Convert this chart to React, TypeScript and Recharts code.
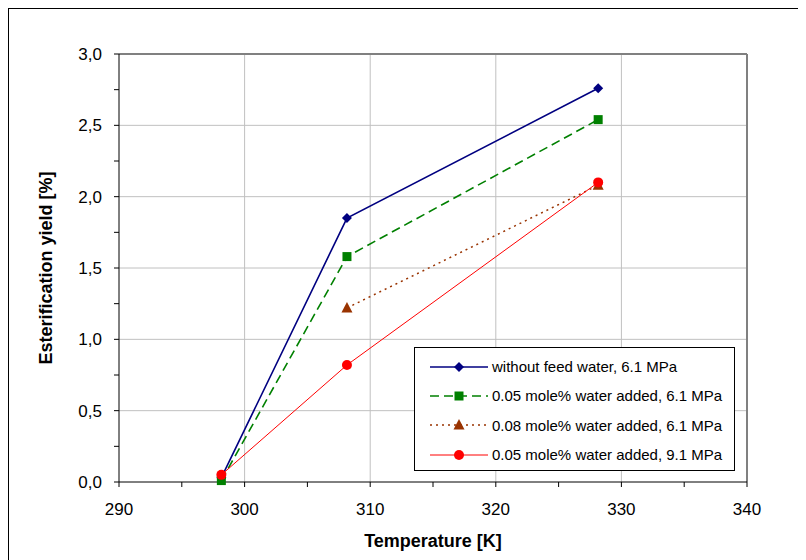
import { CartesianGrid, Label, Line, LineChart, ReferenceLine, XAxis, YAxis } from 'recharts';

// values
const temperatures = [298.15, 308.15, 328.15];
const withoutFeedWater = [0.03, 1.85, 2.76];
const water005_61 = [0.01, 1.58, 2.54];
const water008_61 = [null, 1.22, 2.08];
const water005_91 = [0.05, 0.82, 2.1];

const seriesNames = [
  'without feed water, 6.1 MPa',
  '0.05 mole% water added, 6.1 MPa',
  '0.08 mole% water added, 6.1 MPa',
  '0.05 mole% water added, 9.1 MPa',
];

const xTicks = [290, 295, 300, 305, 310, 315, 320, 325, 330, 335, 340];
const yTicks = [0, 0.25, 0.5, 0.75, 1, 1.25, 1.5, 1.75, 2, 2.25, 2.5, 2.75, 3];
const xGrid = [300, 310, 320, 330];
const yGrid = [0.5, 1, 1.5, 2, 2.5];

const data = temperatures.map((t, i) => ({
  t,
  s0: withoutFeedWater[i],
  s1: water005_61[i],
  s2: water008_61[i],
  s3: water005_91[i],
}));

const FONT = '"Liberation Sans", Arial, sans-serif';

type Shape = 'diamond' | 'square' | 'triangle' | 'circle';

function Marker({ cx, cy, shape, color }: { cx: number; cy: number; shape: Shape; color: string }) {
  if (shape === 'diamond') {
    const r = 5;
    return <polygon points={`${cx},${cy - r} ${cx + r},${cy} ${cx},${cy + r} ${cx - r},${cy}`} fill={color} />;
  }
  if (shape === 'square') {
    return <rect x={cx - 4.5} y={cy - 4.5} width={9} height={9} fill={color} />;
  }
  if (shape === 'triangle') {
    return <polygon points={`${cx},${cy - 6} ${cx + 5.5},${cy + 4.5} ${cx - 5.5},${cy + 4.5}`} fill={color} />;
  }
  return <circle cx={cx} cy={cy} r={5} fill={color} />;
}

const series = [
  { key: 's0', color: '#000080', width: 1.6, dash: undefined, shape: 'diamond' as Shape },
  { key: 's1', color: '#008000', width: 1.6, dash: '9 5', shape: 'square' as Shape },
  { key: 's2', color: '#993300', width: 1.5, dash: '2 4', shape: 'triangle' as Shape },
  { key: 's3', color: '#ff0000', width: 1, dash: undefined, shape: 'circle' as Shape },
];

const XTick = (props: any) => {
  const { x, y, payload } = props;
  if (payload.value % 10 !== 0) return <g />;
  return (
    <text x={x} y={y} dy={26} textAnchor="middle" fontSize={17} fontFamily={FONT} fill="#000">
      {payload.value}
    </text>
  );
};

const YTick = (props: any) => {
  const { x, y, payload } = props;
  if (Math.round(payload.value * 100) % 50 !== 0) return <g />;
  return (
    <text x={x - 10} y={y} dy={6} textAnchor="end" fontSize={17} fontFamily={FONT} fill="#000">
      {payload.value.toFixed(1).replace('.', ',')}
    </text>
  );
};

function LegendBox() {
  return (
    <div
      style={{
        position: 'absolute',
        left: 405,
        top: 338,
        width: 321,
        height: 124,
        border: '1px solid #000',
        background: '#fff',
        fontFamily: FONT,
        fontSize: 15,
        color: '#000',
        paddingTop: 4,
        boxSizing: 'border-box',
      }}
    >
      {series.map((s, i) => (
        <div key={s.key} style={{ display: 'flex', alignItems: 'center', height: 29.3 }}>
          <svg width={62} height={14} style={{ marginLeft: 15, marginRight: 0 }}>
            <line x1={0} y1={7} x2={58} y2={7} stroke={s.color} strokeWidth={s.width} strokeDasharray={s.dash} />
            <Marker cx={29} cy={7} shape={s.shape} color={s.color} />
          </svg>
          <span style={{ whiteSpace: 'nowrap' }}>{seriesNames[i]}</span>
        </div>
      ))}
    </div>
  );
}

export default function App() {
  return (
    <div
      style={{
        position: 'relative',
        width: 800,
        height: 560,
        borderLeft: '1px solid #000',
        borderTop: '1px solid #000',
        background: '#fff',
      }}
    >
      <LineChart width={798} height={551} data={data} margin={{ top: 45, right: 60, bottom: 28, left: 50 }}>
        <CartesianGrid horizontal={false} vertical={false} />
        {xGrid.map((v) => (
          <ReferenceLine key={`x${v}`} x={v} stroke="#c0c0c0" strokeWidth={1} />
        ))}
        {yGrid.map((v) => (
          <ReferenceLine key={`y${v}`} y={v} stroke="#c0c0c0" strokeWidth={1} />
        ))}
        <ReferenceLine y={3} stroke="#808080" strokeWidth={2} />
        <ReferenceLine x={340} stroke="#808080" strokeWidth={2} />
        <XAxis
          dataKey="t"
          type="number"
          domain={[290, 340]}
          ticks={xTicks}
          interval={0}
          height={50}
          tick={<XTick />}
          tickSize={5}
          axisLine={{ stroke: '#000' }}
          tickLine={{ stroke: '#000' }}
        >
          <Label
            content={(p: any) => {
              const vb = p.viewBox;
              return (
                <text
                  x={vb.x + vb.width / 2}
                  y={vb.y + 65}
                  textAnchor="middle"
                  fontSize={18}
                  fontWeight="bold"
                  fontFamily={FONT}
                  fill="#000"
                >
                  Temperature [K]
                </text>
              );
            }}
          />
        </XAxis>
        <YAxis
          type="number"
          domain={[0, 3]}
          ticks={yTicks}
          interval={0}
          width={60}
          tick={<YTick />}
          tickSize={5}
          axisLine={{ stroke: '#000' }}
          tickLine={{ stroke: '#000' }}
        >
          <Label
            content={(p: any) => {
              const vb = p.viewBox;
              const cy = vb.y + vb.height / 2;
              return (
                <text
                  x={43}
                  y={cy}
                  transform={`rotate(-90 43 ${cy})`}
                  textAnchor="middle"
                  fontSize={18}
                  fontWeight="bold"
                  fontFamily={FONT}
                  fill="#000"
                >
                  Esterification yield [%]
                </text>
              );
            }}
          />
        </YAxis>
        {series.map((s, i) => (
          <Line
            key={s.key}
            dataKey={s.key}
            name={seriesNames[i]}
            type="linear"
            stroke={s.color}
            strokeWidth={s.width}
            strokeDasharray={s.dash}
            connectNulls={false}
            activeDot={false}
            isAnimationActive={false}
            dot={(p: any) =>
              p.cx == null || p.cy == null || p.value == null ? (
                <g key={p.key} />
              ) : (
                <Marker key={p.key} cx={p.cx} cy={p.cy} shape={s.shape} color={s.color} />
              )
            }
          />
        ))}
      </LineChart>
      <LegendBox />
    </div>
  );
}
